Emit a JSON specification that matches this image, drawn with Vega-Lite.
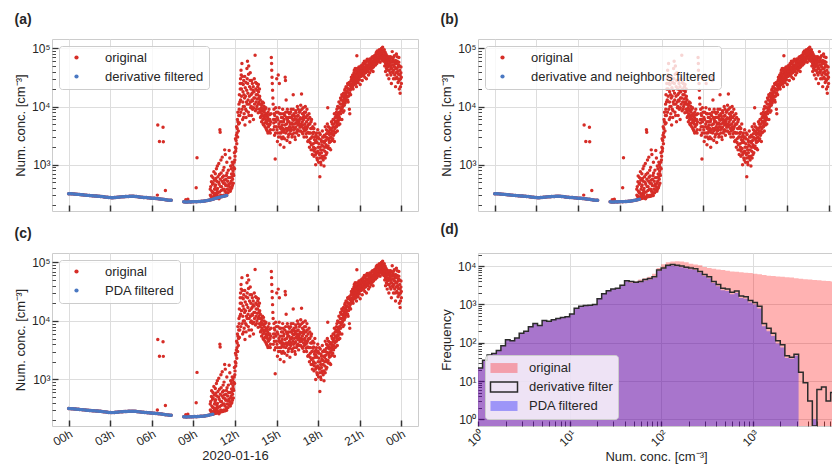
{
  "$schema": "https://vega.github.io/schema/vega-lite/v6.json",
  "padding": {"left": 13, "top": 12, "right": 0, "bottom": 0},
  "background": "white",
  "config": {
    "font": "Liberation Sans",
    "view": {"stroke": "#cccccc", "strokeWidth": 1},
    "axis": {"domain": false, "gridColor": "#dddddd", "gridWidth": 1, "labelFontSize": 12, "labelColor": "#262626", "titleFontSize": 13, "titleFontWeight": "normal", "titleColor": "#262626", "tickColor": "#333333", "labelOverlap": false, "labelFlush": false},
    "title": {"anchor": "start", "fontSize": 14, "fontWeight": "bold", "color": "#262626", "offset": 12},
    "legend": {"labelFont": "Liberation Sans", "labelLimit": 400}
  },
  "datasets": {
    "ts": [
      {"t":0.0,"v":318,"f":1},{"t":0.1,"v":317,"f":1},{"t":0.2,"v":316,"f":1},{"t":0.3,"v":315,"f":1},{"t":0.4,"v":313,"f":1},{"t":0.5,"v":312,"f":1},{"t":0.6,"v":310,"f":1},{"t":0.7,"v":309,"f":1},{"t":0.8,"v":307,"f":1},{"t":0.9,"v":305,"f":1},
      {"t":1.0,"v":304,"f":1},{"t":1.1,"v":302,"f":1},{"t":1.2,"v":300,"f":1},{"t":1.3,"v":298,"f":1},{"t":1.4,"v":297,"f":1},{"t":1.5,"v":295,"f":1},{"t":1.6,"v":294,"f":1},{"t":1.7,"v":292,"f":1},{"t":1.8,"v":291,"f":1},{"t":1.9,"v":290,"f":1},
      {"t":2.0,"v":289,"f":1},{"t":2.1,"v":288,"f":1},{"t":2.2,"v":286,"f":1},{"t":2.3,"v":285,"f":1},{"t":2.4,"v":283,"f":1},{"t":2.5,"v":281,"f":1},{"t":2.6,"v":279,"f":1},{"t":2.7,"v":277,"f":1},{"t":2.8,"v":275,"f":1},{"t":2.9,"v":273,"f":1},
      {"t":3.0,"v":272,"f":1},{"t":3.1,"v":271,"f":1},{"t":3.2,"v":271,"f":1},{"t":3.3,"v":272,"f":1},{"t":3.4,"v":274,"f":1},{"t":3.5,"v":276,"f":1},{"t":3.6,"v":277,"f":1},{"t":3.7,"v":279,"f":1},{"t":3.8,"v":280,"f":1},{"t":3.9,"v":281,"f":1},
      {"t":4.0,"v":282,"f":1},{"t":4.1,"v":283,"f":1},{"t":4.2,"v":284,"f":1},{"t":4.3,"v":285,"f":1},{"t":4.4,"v":286,"f":1},{"t":4.5,"v":287,"f":1},{"t":4.6,"v":287,"f":1},{"t":4.7,"v":286,"f":1},{"t":4.8,"v":285,"f":1},{"t":4.9,"v":283,"f":1},
      {"t":5.0,"v":281,"f":1},{"t":5.1,"v":279,"f":1},{"t":5.2,"v":277,"f":1},{"t":5.3,"v":275,"f":1},{"t":5.4,"v":274,"f":1},{"t":5.5,"v":273,"f":1},{"t":5.6,"v":272,"f":1},{"t":5.7,"v":270,"f":1},{"t":5.8,"v":269,"f":1},{"t":5.9,"v":268,"f":1},
      {"t":6.0,"v":266,"f":1},{"t":6.1,"v":265,"f":1},{"t":6.2,"v":264,"f":1},{"t":6.3,"v":262,"f":1},{"t":6.4,"v":261,"f":1},{"t":6.5,"v":260,"f":1},{"t":6.6,"v":258,"f":1},{"t":6.7,"v":256,"f":1},{"t":6.8,"v":254,"f":1},{"t":6.9,"v":252,"f":1},
      {"t":7.0,"v":250,"f":1},{"t":7.1,"v":248,"f":1},{"t":7.2,"v":246,"f":1},{"t":7.3,"v":245,"f":1},{"t":7.4,"v":244,"f":1},
      {"t":8.3,"v":230,"f":1},{"t":8.4,"v":229,"f":1},{"t":8.5,"v":228,"f":1},{"t":8.6,"v":229,"f":1},{"t":8.7,"v":230,"f":1},{"t":8.8,"v":229,"f":1},{"t":8.9,"v":230,"f":1},{"t":9.0,"v":231,"f":1},{"t":9.1,"v":232,"f":1},{"t":9.2,"v":231,"f":1},{"t":9.3,"v":232,"f":1},
      {"t":9.4,"v":233,"f":1},{"t":9.5,"v":234,"f":1},{"t":9.6,"v":235,"f":1},{"t":9.7,"v":236,"f":1},{"t":9.8,"v":238,"f":1},{"t":9.9,"v":240,"f":1},{"t":10.0,"v":242,"f":1},{"t":10.1,"v":245,"f":1},{"t":10.2,"v":248,"f":1},{"t":10.3,"v":251,"f":1},{"t":10.4,"v":254,"f":1},
      {"t":10.5,"v":260,"f":2},{"t":10.6,"v":264,"f":2},{"t":10.7,"v":268,"f":2},{"t":10.8,"v":272,"f":2},{"t":10.9,"v":276,"f":2},{"t":11.0,"v":280,"f":2},{"t":11.1,"v":284,"f":2},{"t":11.2,"v":288,"f":2},{"t":11.3,"v":292,"f":2},{"t":11.4,"v":296,"f":2},
      {"t":6.43,"v":4800},{"t":6.81,"v":4400},{"t":6.55,"v":2500},{"t":6.83,"v":2480},{"t":6.4,"v":300},{"t":6.98,"v":360},{"t":9.26,"v":1320},{"t":9.2,"v":400},{"t":8.45,"v":250},{"t":8.6,"v":255},
      {"t":10.22,"v":300},{"t":10.25,"v":420},{"t":10.28,"v":260},{"t":10.3,"v":510},{"t":10.33,"v":350},{"t":10.36,"v":280},{"t":10.38,"v":460},{"t":10.41,"v":600},{"t":10.44,"v":330},{"t":10.47,"v":270},
      {"t":10.5,"v":540},{"t":10.52,"v":380},{"t":10.55,"v":290},{"t":10.58,"v":700},{"t":10.6,"v":450},{"t":10.63,"v":320},{"t":10.66,"v":850},{"t":10.68,"v":520},{"t":10.71,"v":300},{"t":10.74,"v":390},
      {"t":10.77,"v":620},{"t":10.8,"v":280},{"t":10.83,"v":1050},{"t":10.86,"v":460},{"t":10.88,"v":340},{"t":10.91,"v":4000},{"t":10.93,"v":3600},{"t":10.94,"v":560},{"t":10.97,"v":300},{"t":11.0,"v":720},
      {"t":11.03,"v":420},{"t":11.05,"v":290},{"t":11.08,"v":1350},{"t":11.1,"v":610},{"t":11.13,"v":380},{"t":11.16,"v":480},{"t":11.19,"v":300},{"t":11.21,"v":900},{"t":11.24,"v":540},{"t":11.27,"v":350},
      {"t":11.3,"v":1500},{"t":11.33,"v":440},{"t":11.35,"v":310},{"t":11.38,"v":650},{"t":11.41,"v":1100},{"t":11.44,"v":380},{"t":11.47,"v":520},{"t":11.5,"v":330},{"t":11.52,"v":800},{"t":11.55,"v":460},
      {"t":11.58,"v":1750},{"t":11.61,"v":420},{"t":11.64,"v":600},{"t":11.66,"v":350},{"t":11.69,"v":950},{"t":11.72,"v":520},{"t":11.75,"v":690},{"t":11.77,"v":400},{"t":11.8,"v":1100},{"t":11.83,"v":560},
      {"t":11.86,"v":780},{"t":11.88,"v":480},{"t":11.91,"v":650},{"t":11.94,"v":1100},{"t":11.97,"v":850},{"t":12.0,"v":1400},{"t":12.02,"v":2000},{"t":12.05,"v":1700},{"t":12.08,"v":2600},{"t":12.1,"v":3200},
      {"t":12.13,"v":2300},{"t":12.16,"v":4200},{"t":12.19,"v":3000},{"t":12.21,"v":5500},{"t":12.24,"v":3800},{"t":12.27,"v":7000},{"t":12.3,"v":9000},{"t":12.32,"v":5200},{"t":12.35,"v":12000},{"t":12.38,"v":20000},
      {"t":12.4,"v":30000},{"t":12.42,"v":8000},{"t":12.45,"v":35000},{"t":12.47,"v":15000},{"t":12.5,"v":55000},{"t":12.52,"v":25000},{"t":12.55,"v":6000},{"t":12.58,"v":18000},{"t":12.6,"v":10000},{"t":12.63,"v":28000},
      {"t":12.66,"v":7500},{"t":12.69,"v":14000},{"t":12.72,"v":4800},{"t":12.74,"v":21000},{"t":12.77,"v":9000},{"t":12.8,"v":6500},{"t":12.83,"v":12000},{"t":12.86,"v":45000},{"t":12.88,"v":30000},{"t":12.9,"v":60000},
      {"t":12.93,"v":17000},{"t":12.96,"v":8000},{"t":12.99,"v":50000},{"t":13.02,"v":11000},{"t":13.05,"v":22000},{"t":13.07,"v":5500},{"t":13.1,"v":38000},{"t":13.13,"v":9500},{"t":13.16,"v":16000},{"t":13.19,"v":7000},
      {"t":13.22,"v":13000},{"t":13.25,"v":25000},{"t":13.27,"v":9000},{"t":13.3,"v":19000},{"t":13.33,"v":6000},{"t":13.36,"v":14000},{"t":13.39,"v":30000},{"t":13.41,"v":11000},{"t":13.45,"v":76000},{"t":13.47,"v":8500},
      {"t":13.5,"v":20000},{"t":13.53,"v":16000},{"t":13.56,"v":25000},{"t":13.58,"v":10000},{"t":13.61,"v":13500},{"t":13.64,"v":22000},{"t":13.67,"v":7800},{"t":13.7,"v":18000},{"t":13.72,"v":12000},{"t":13.75,"v":9000},
      {"t":13.78,"v":15000},{"t":13.81,"v":8000},{"t":13.84,"v":6500},{"t":13.87,"v":11000},{"t":13.9,"v":9500},{"t":13.92,"v":5500},{"t":13.95,"v":7500},{"t":13.98,"v":12000},{"t":14.01,"v":6000},{"t":14.04,"v":8500},
      {"t":14.07,"v":4800},{"t":14.1,"v":10000},{"t":14.13,"v":7000},{"t":14.15,"v":5200},{"t":14.18,"v":9000},{"t":14.21,"v":6000},{"t":14.24,"v":4200},{"t":14.27,"v":7500},{"t":14.3,"v":5500},{"t":14.33,"v":3800},
      {"t":14.36,"v":6500},{"t":14.39,"v":8000},{"t":14.41,"v":4500},{"t":14.44,"v":5800},{"t":14.47,"v":3600},{"t":14.5,"v":7200},{"t":14.53,"v":5000},{"t":14.56,"v":4000},{"t":14.62,"v":70000},{"t":14.64,"v":55000},
      {"t":14.65,"v":42000},{"t":14.67,"v":32000},{"t":14.69,"v":25000},{"t":14.71,"v":19000},{"t":14.73,"v":14000},{"t":14.75,"v":11000},{"t":14.78,"v":6000},{"t":14.81,"v":9000},{"t":14.84,"v":4500},{"t":14.87,"v":7000},
      {"t":14.9,"v":1250},{"t":14.92,"v":3500},{"t":14.95,"v":5500},{"t":14.98,"v":8000},{"t":15.01,"v":30000},{"t":15.03,"v":4000},{"t":15.06,"v":2500},{"t":15.09,"v":6000},{"t":15.12,"v":35000},{"t":15.14,"v":3000},
      {"t":15.17,"v":5000},{"t":15.2,"v":25000},{"t":15.23,"v":7500},{"t":15.26,"v":2200},{"t":15.29,"v":4200},{"t":15.32,"v":3500},{"t":15.35,"v":6500},{"t":15.38,"v":2800},{"t":15.41,"v":4800},{"t":15.44,"v":9000},
      {"t":15.47,"v":3000},{"t":15.5,"v":5500},{"t":15.53,"v":2000},{"t":15.56,"v":4000},{"t":15.59,"v":7000},{"t":15.62,"v":32000},{"t":15.64,"v":28000},{"t":15.66,"v":3500},{"t":15.69,"v":13000},{"t":15.72,"v":5000},
      {"t":15.75,"v":2600},{"t":15.78,"v":6000},{"t":15.81,"v":4200},{"t":15.84,"v":8000},{"t":15.87,"v":3300},{"t":15.9,"v":5500},{"t":15.93,"v":4500},{"t":15.96,"v":2400},{"t":15.99,"v":6500},{"t":16.02,"v":3800},
      {"t":16.05,"v":9000},{"t":16.08,"v":5000},{"t":16.11,"v":3000},{"t":16.14,"v":7000},{"t":16.17,"v":4500},{"t":16.2,"v":16000},{"t":16.23,"v":5800},{"t":16.26,"v":3500},{"t":16.29,"v":6800},{"t":16.32,"v":4200},
      {"t":16.35,"v":2700},{"t":16.38,"v":8500},{"t":16.41,"v":5200},{"t":16.44,"v":6000},{"t":16.47,"v":3800},{"t":16.5,"v":10000},{"t":16.53,"v":4800},{"t":16.56,"v":7000},{"t":16.59,"v":3200},{"t":16.62,"v":5600},
      {"t":16.65,"v":8000},{"t":16.68,"v":4400},{"t":16.71,"v":6400},{"t":16.74,"v":10500},{"t":16.77,"v":5000},{"t":16.8,"v":16500},{"t":16.83,"v":3600},{"t":16.86,"v":7500},{"t":16.89,"v":4800},{"t":16.92,"v":9500},
      {"t":16.95,"v":6000},{"t":16.98,"v":3000},{"t":17.01,"v":8000},{"t":17.04,"v":5000},{"t":17.07,"v":10000},{"t":17.1,"v":4000},{"t":17.13,"v":6500},{"t":17.16,"v":3000},{"t":17.19,"v":9000},{"t":17.22,"v":4500},
      {"t":17.25,"v":2500},{"t":17.28,"v":6000},{"t":17.31,"v":3500},{"t":17.34,"v":7500},{"t":17.37,"v":2000},{"t":17.4,"v":5000},{"t":17.43,"v":2800},{"t":17.46,"v":4200},{"t":17.49,"v":1800},{"t":17.52,"v":6000},
      {"t":17.55,"v":3000},{"t":17.58,"v":1500},{"t":17.61,"v":4500},{"t":17.64,"v":2300},{"t":17.67,"v":3600},{"t":17.7,"v":1400},{"t":17.73,"v":2700},{"t":17.76,"v":5000},{"t":17.79,"v":1900},{"t":17.82,"v":1000},
      {"t":17.85,"v":3200},{"t":17.88,"v":1600},{"t":17.91,"v":2400},{"t":17.94,"v":1200},{"t":17.97,"v":4000},{"t":18.0,"v":2000},{"t":18.03,"v":1100},{"t":18.06,"v":2800},{"t":18.09,"v":1500},{"t":18.12,"v":620},
      {"t":18.15,"v":3300},{"t":18.18,"v":1800},{"t":18.21,"v":1000},{"t":18.24,"v":2500},{"t":18.27,"v":1400},{"t":18.3,"v":3800},{"t":18.33,"v":2100},{"t":18.36,"v":1200},{"t":18.39,"v":3000},{"t":18.42,"v":950},
      {"t":18.45,"v":2400},{"t":18.48,"v":1700},{"t":18.51,"v":4500},{"t":18.54,"v":2600},{"t":18.57,"v":1500},{"t":18.6,"v":3400},{"t":18.63,"v":2000},{"t":18.66,"v":5000},{"t":18.69,"v":9500},{"t":18.72,"v":2800},
      {"t":18.75,"v":1900},{"t":18.78,"v":3600},{"t":18.81,"v":2400},{"t":18.84,"v":4300},{"t":18.87,"v":2900},{"t":18.9,"v":1800},{"t":18.93,"v":3500},{"t":18.96,"v":5500},{"t":18.99,"v":2600},{"t":19.02,"v":3800},
      {"t":19.05,"v":2800},{"t":19.08,"v":4500},{"t":19.11,"v":3200},{"t":19.14,"v":6000},{"t":19.17,"v":2500},{"t":19.2,"v":4200},{"t":19.23,"v":5500},{"t":19.26,"v":3600},{"t":19.29,"v":7000},{"t":19.32,"v":4500},
      {"t":19.35,"v":9000},{"t":19.38,"v":3800},{"t":19.41,"v":5800},{"t":19.44,"v":7500},{"t":19.47,"v":4800},{"t":19.5,"v":9500},{"t":19.53,"v":6500},{"t":19.56,"v":5000},{"t":19.59,"v":11000},{"t":19.62,"v":7500},
      {"t":19.65,"v":13000},{"t":19.68,"v":9000},{"t":19.71,"v":6000},{"t":19.74,"v":15000},{"t":19.77,"v":10000},{"t":19.8,"v":12500},{"t":19.83,"v":17000},{"t":19.86,"v":8500},{"t":19.89,"v":14000},{"t":19.92,"v":19000},
      {"t":19.95,"v":11500},{"t":19.98,"v":16000},{"t":20.01,"v":22000},{"t":20.04,"v":13000},{"t":20.07,"v":18000},{"t":20.1,"v":15000},{"t":20.13,"v":25000},{"t":20.16,"v":12000},{"t":20.19,"v":20000},{"t":20.22,"v":17000},
      {"t":20.25,"v":9000},{"t":20.28,"v":7500},{"t":20.31,"v":23000},{"t":20.34,"v":16000},{"t":20.37,"v":28000},{"t":20.4,"v":21000},{"t":20.43,"v":30000},{"t":20.46,"v":25000},{"t":20.49,"v":35000},{"t":20.52,"v":20000},
      {"t":20.55,"v":28000},{"t":20.58,"v":38000},{"t":20.61,"v":24000},{"t":20.64,"v":32000},{"t":20.67,"v":45000},{"t":20.7,"v":27000},{"t":20.73,"v":36000},{"t":20.76,"v":22000},{"t":20.79,"v":75000},{"t":20.82,"v":30000},
      {"t":20.85,"v":40000},{"t":20.88,"v":26000},{"t":20.91,"v":34000},{"t":20.94,"v":48000},{"t":20.97,"v":29000},{"t":21.0,"v":38000},{"t":21.03,"v":24000},{"t":21.06,"v":42000},{"t":21.09,"v":33000},{"t":21.12,"v":50000},
      {"t":21.15,"v":38000},{"t":21.18,"v":28000},{"t":21.21,"v":45000},{"t":21.24,"v":55000},{"t":21.27,"v":35000},{"t":21.3,"v":42000},{"t":21.33,"v":60000},{"t":21.36,"v":32000},{"t":21.39,"v":48000},{"t":21.42,"v":38000},
      {"t":21.45,"v":52000},{"t":21.48,"v":30000},{"t":21.51,"v":44000},{"t":21.54,"v":65000},{"t":21.57,"v":40000},{"t":21.6,"v":50000},{"t":21.63,"v":35000},{"t":21.66,"v":58000},{"t":21.69,"v":45000},{"t":21.72,"v":38000},
      {"t":21.75,"v":62000},{"t":21.78,"v":48000},{"t":21.81,"v":42000},{"t":21.84,"v":55000},{"t":21.87,"v":70000},{"t":21.9,"v":46000},{"t":21.93,"v":52000},{"t":21.96,"v":40000},{"t":21.99,"v":60000},{"t":22.02,"v":50000},
      {"t":22.05,"v":75000},{"t":22.08,"v":58000},{"t":22.11,"v":68000},{"t":22.14,"v":52000},{"t":22.17,"v":80000},{"t":22.2,"v":62000},{"t":22.23,"v":55000},{"t":22.26,"v":90000},{"t":22.29,"v":70000},{"t":22.32,"v":60000},
      {"t":22.35,"v":85000},{"t":22.38,"v":65000},{"t":22.41,"v":95000},{"t":22.44,"v":72000},{"t":22.47,"v":58000},{"t":22.5,"v":88000},{"t":22.53,"v":76000},{"t":22.56,"v":100000},{"t":22.59,"v":64000},{"t":22.62,"v":82000},
      {"t":22.65,"v":105000},{"t":22.68,"v":70000},{"t":22.71,"v":92000},{"t":22.74,"v":60000},{"t":22.77,"v":78000},{"t":22.8,"v":50000},{"t":22.83,"v":86000},{"t":22.86,"v":40000},{"t":22.89,"v":65000},{"t":22.92,"v":45000},
      {"t":22.95,"v":75000},{"t":22.98,"v":35000},{"t":23.01,"v":55000},{"t":23.04,"v":42000},{"t":23.07,"v":68000},{"t":23.1,"v":30000},{"t":23.13,"v":50000},{"t":23.16,"v":60000},{"t":23.19,"v":38000},{"t":23.22,"v":72000},
      {"t":23.25,"v":45000},{"t":23.28,"v":25000},{"t":23.31,"v":58000},{"t":23.34,"v":88000},{"t":23.37,"v":40000},{"t":23.4,"v":62000},{"t":23.43,"v":30000},{"t":23.46,"v":50000},{"t":23.49,"v":75000},{"t":23.52,"v":35000},
      {"t":23.55,"v":55000},{"t":23.58,"v":22000},{"t":23.61,"v":45000},{"t":23.64,"v":80000},{"t":23.67,"v":32000},{"t":23.7,"v":60000},{"t":23.73,"v":40000},{"t":23.76,"v":26000},{"t":23.79,"v":52000},{"t":23.82,"v":70000},
      {"t":23.85,"v":20000},{"t":23.88,"v":42000},{"t":23.91,"v":17000},{"t":23.94,"v":30000},{"t":23.97,"v":48000},{"t":24.0,"v":25000},
      {"t":10.215,"v":380},{"t":10.265,"v":290},{"t":10.315,"v":640},{"t":10.345,"v":270},{"t":10.395,"v":330},{"t":10.425,"v":480},{"t":10.475,"v":760},{"t":10.515,"v":300},{"t":10.565,"v":420},{"t":10.615,"v":580},
      {"t":10.645,"v":270},{"t":10.695,"v":360},{"t":10.725,"v":950},{"t":10.755,"v":330},{"t":10.815,"v":500},{"t":10.845,"v":260},{"t":10.875,"v":680},{"t":10.955,"v":420},{"t":10.985,"v":1200},{"t":11.015,"v":360},
      {"t":11.065,"v":520},{"t":11.115,"v":290},{"t":11.145,"v":800},{"t":11.175,"v":640},{"t":11.225,"v":380},{"t":11.255,"v":1800},{"t":11.285,"v":470},{"t":11.345,"v":560},{"t":11.395,"v":330},{"t":11.425,"v":720},
      {"t":11.485,"v":430},{"t":11.535,"v":600},{"t":11.565,"v":370},{"t":11.625,"v":1300},{"t":11.675,"v":480},{"t":11.705,"v":380},{"t":11.735,"v":850},{"t":11.785,"v":620},{"t":11.815,"v":440},{"t":11.845,"v":1000},
      {"t":11.875,"v":700},{"t":11.905,"v":900},{"t":11.955,"v":1600},{"t":11.985,"v":1200},{"t":12.035,"v":2800},{"t":12.065,"v":1900},{"t":12.115,"v":4500},{"t":12.145,"v":3500},{"t":12.175,"v":6000},{"t":12.205,"v":8000},
      {"t":12.255,"v":5000},{"t":12.285,"v":11000},{"t":12.315,"v":16000},{"t":12.345,"v":7000},{"t":12.375,"v":25000},{"t":12.405,"v":13000},{"t":12.435,"v":42000},{"t":12.465,"v":20000},{"t":12.515,"v":9000},{"t":12.535,"v":33000},
      {"t":12.565,"v":12000},{"t":12.595,"v":24000},{"t":12.615,"v":6500},{"t":12.645,"v":16000},{"t":12.675,"v":10000},{"t":12.705,"v":33000},{"t":12.755,"v":15000},{"t":12.785,"v":26000},{"t":12.815,"v":8500},{"t":12.845,"v":19000},
      {"t":12.875,"v":11000},{"t":12.915,"v":25000},{"t":12.945,"v":13000},{"t":12.975,"v":36000},{"t":13.005,"v":7000},{"t":13.035,"v":15000},{"t":13.085,"v":28000},{"t":13.115,"v":12000},{"t":13.145,"v":20000},{"t":13.175,"v":10000},
      {"t":13.205,"v":28000},{"t":13.235,"v":17000},{"t":13.265,"v":12500},{"t":13.315,"v":22000},{"t":13.345,"v":9500},{"t":13.375,"v":18000},{"t":13.425,"v":14000},{"t":13.485,"v":26000},{"t":13.515,"v":12000},{"t":13.545,"v":9000},
      {"t":13.595,"v":19000},{"t":13.625,"v":16000},{"t":13.655,"v":11000},{"t":13.685,"v":24000},{"t":13.745,"v":14000},{"t":13.765,"v":20000},{"t":13.795,"v":11000},{"t":13.825,"v":13000},{"t":13.855,"v":8500},{"t":13.885,"v":6800},
      {"t":13.935,"v":10500},{"t":13.965,"v":7000},{"t":13.995,"v":9000},{"t":14.025,"v":5000},{"t":14.055,"v":11500},{"t":14.085,"v":6500},{"t":14.115,"v":8000},{"t":14.165,"v":4500},{"t":14.195,"v":6800},{"t":14.225,"v":9500},
      {"t":14.255,"v":5500},{"t":14.285,"v":4000},{"t":14.315,"v":7000},{"t":14.345,"v":5000},{"t":14.375,"v":3500},{"t":14.425,"v":6000},{"t":14.455,"v":9000},{"t":14.485,"v":4800},{"t":14.515,"v":6000},{"t":14.545,"v":3500},
      {"t":14.575,"v":5500},{"t":14.595,"v":7500},{"t":14.765,"v":4000},{"t":14.795,"v":5200},{"t":14.825,"v":7500},{"t":14.855,"v":3200},{"t":14.885,"v":6000},{"t":14.935,"v":9500},{"t":14.965,"v":4500},{"t":15.045,"v":6500},
      {"t":15.075,"v":3500},{"t":15.105,"v":8000},{"t":15.155,"v":4500},{"t":15.185,"v":9500},{"t":15.215,"v":3500},{"t":15.245,"v":5500},{"t":15.275,"v":3000},{"t":15.305,"v":7500},{"t":15.335,"v":4500},{"t":15.365,"v":5500},
      {"t":15.395,"v":3800},{"t":15.425,"v":6500},{"t":15.455,"v":4200},{"t":15.485,"v":7500},{"t":15.515,"v":3600},{"t":15.545,"v":6000},{"t":15.575,"v":2800},{"t":15.605,"v":4800},{"t":15.655,"v":8000},{"t":15.685,"v":4200},
      {"t":15.715,"v":6500},{"t":15.745,"v":3800},{"t":15.775,"v":9000},{"t":15.805,"v":5500},{"t":15.835,"v":3000},{"t":15.865,"v":6500},{"t":15.895,"v":4000},{"t":15.925,"v":7500},{"t":15.955,"v":3400},{"t":15.985,"v":5000},
      {"t":16.015,"v":8000},{"t":16.045,"v":4200},{"t":16.075,"v":6500},{"t":16.105,"v":5200},{"t":16.135,"v":3300},{"t":16.165,"v":6000},{"t":16.195,"v":9000},{"t":16.225,"v":4000},{"t":16.255,"v":7500},{"t":16.285,"v":5000},
      {"t":16.315,"v":3000},{"t":16.345,"v":6200},{"t":16.375,"v":4400},{"t":16.405,"v":7800},{"t":16.435,"v":3500},{"t":16.465,"v":5600},{"t":16.495,"v":6800},{"t":16.525,"v":4000},{"t":16.555,"v":9000},{"t":16.585,"v":5200},
      {"t":16.615,"v":3800},{"t":16.645,"v":6000},{"t":16.675,"v":4800},{"t":16.705,"v":8500},{"t":16.735,"v":3800},{"t":16.765,"v":6200},{"t":16.795,"v":4500},{"t":16.825,"v":9000},{"t":16.855,"v":5500},{"t":16.885,"v":3400},
      {"t":16.915,"v":6500},{"t":16.945,"v":4200},{"t":16.975,"v":7000},{"t":17.005,"v":3800},{"t":17.035,"v":6500},{"t":17.065,"v":4500},{"t":17.095,"v":8000},{"t":17.125,"v":3400},{"t":17.155,"v":5500},{"t":17.185,"v":4200},
      {"t":17.215,"v":7000},{"t":17.245,"v":3600},{"t":17.275,"v":4800},{"t":17.305,"v":2600},{"t":17.335,"v":5000},{"t":17.365,"v":3500},{"t":17.395,"v":6500},{"t":17.425,"v":2400},{"t":17.455,"v":3500},{"t":17.485,"v":5500},
      {"t":17.515,"v":2200},{"t":17.545,"v":4200},{"t":17.575,"v":3000},{"t":17.605,"v":1800},{"t":17.635,"v":3400},{"t":17.665,"v":2000},{"t":17.695,"v":4200},{"t":17.725,"v":1700},{"t":17.755,"v":3000},{"t":17.785,"v":2400},
      {"t":17.815,"v":1500},{"t":17.845,"v":2600},{"t":17.875,"v":3500},{"t":17.905,"v":1300},{"t":17.935,"v":2900},{"t":17.965,"v":1700},{"t":17.995,"v":3000},{"t":18.025,"v":1600},{"t":18.055,"v":2300},{"t":18.085,"v":3500},
      {"t":18.115,"v":1300},{"t":18.145,"v":2000},{"t":18.175,"v":1100},{"t":18.205,"v":2700},{"t":18.235,"v":1600},{"t":18.265,"v":2200},{"t":18.295,"v":1300},{"t":18.325,"v":3000},{"t":18.355,"v":1800},{"t":18.385,"v":2500},
      {"t":18.415,"v":1400},{"t":18.445,"v":3200},{"t":18.475,"v":2000},{"t":18.505,"v":1300},{"t":18.535,"v":3000},{"t":18.565,"v":2200},{"t":18.595,"v":4000},{"t":18.625,"v":1600},{"t":18.655,"v":2900},{"t":18.685,"v":3800},
      {"t":18.715,"v":2100},{"t":18.745,"v":4500},{"t":18.775,"v":2600},{"t":18.805,"v":3300},{"t":18.835,"v":1900},{"t":18.865,"v":4000},{"t":18.895,"v":2500},{"t":18.925,"v":3000},{"t":18.955,"v":4200},{"t":18.985,"v":3400},
      {"t":19.015,"v":5000},{"t":19.045,"v":3300},{"t":19.075,"v":6000},{"t":19.105,"v":3800},{"t":19.135,"v":5000},{"t":19.165,"v":7500},{"t":19.195,"v":3500},{"t":19.225,"v":6500},{"t":19.255,"v":4500},{"t":19.285,"v":5500},
      {"t":19.315,"v":8000},{"t":19.345,"v":5000},{"t":19.375,"v":6500},{"t":19.405,"v":10000},{"t":19.435,"v":5500},{"t":19.465,"v":7000},{"t":19.495,"v":12000},{"t":19.525,"v":8000},{"t":19.555,"v":6000},{"t":19.585,"v":9500},
      {"t":19.615,"v":14000},{"t":19.645,"v":8500},{"t":19.675,"v":11000},{"t":19.705,"v":16000},{"t":19.735,"v":9500},{"t":19.765,"v":13000},{"t":19.795,"v":8000},{"t":19.825,"v":11500},{"t":19.855,"v":15000},{"t":19.885,"v":10500},
      {"t":19.915,"v":13500},{"t":19.945,"v":20000},{"t":19.975,"v":12500},{"t":20.005,"v":17000},{"t":20.035,"v":14500},{"t":20.065,"v":21000},{"t":20.095,"v":18000},{"t":20.125,"v":13000},{"t":20.155,"v":24000},{"t":20.185,"v":15000},
      {"t":20.215,"v":20000},{"t":20.245,"v":26000},{"t":20.275,"v":17000},{"t":20.305,"v":19000},{"t":20.335,"v":24000},{"t":20.365,"v":20000},{"t":20.395,"v":32000},{"t":20.425,"v":23000},{"t":20.455,"v":28000},{"t":20.485,"v":22000},
      {"t":20.515,"v":33000},{"t":20.545,"v":25000},{"t":20.575,"v":30000},{"t":20.605,"v":42000},{"t":20.635,"v":27000},{"t":20.665,"v":35000},{"t":20.695,"v":30000},{"t":20.725,"v":25000},{"t":20.755,"v":40000},{"t":20.785,"v":32000},
      {"t":20.815,"v":45000},{"t":20.845,"v":28000},{"t":20.875,"v":36000},{"t":20.905,"v":42000},{"t":20.935,"v":31000},{"t":20.965,"v":38000},{"t":20.995,"v":45000},{"t":21.025,"v":33000},{"t":21.055,"v":36000},{"t":21.085,"v":50000},
      {"t":21.115,"v":40000},{"t":21.145,"v":46000},{"t":21.175,"v":34000},{"t":21.205,"v":52000},{"t":21.235,"v":40000},{"t":21.265,"v":48000},{"t":21.295,"v":36000},{"t":21.325,"v":45000},{"t":21.355,"v":55000},{"t":21.385,"v":42000},
      {"t":21.415,"v":58000},{"t":21.445,"v":40000},{"t":21.475,"v":50000},{"t":21.505,"v":62000},{"t":21.535,"v":45000},{"t":21.565,"v":52000},{"t":21.595,"v":42000},{"t":21.625,"v":60000},{"t":21.655,"v":48000},{"t":21.685,"v":55000},
      {"t":21.715,"v":66000},{"t":21.745,"v":50000},{"t":21.775,"v":58000},{"t":21.805,"v":45000},{"t":21.835,"v":62000},{"t":21.865,"v":52000},{"t":21.895,"v":60000},{"t":21.925,"v":72000},{"t":21.955,"v":55000},{"t":21.985,"v":48000},
      {"t":22.015,"v":65000},{"t":22.045,"v":58000},{"t":22.075,"v":70000},{"t":22.105,"v":60000},{"t":22.135,"v":75000},{"t":22.165,"v":62000},{"t":22.195,"v":85000},{"t":22.225,"v":68000},{"t":22.255,"v":58000},{"t":22.285,"v":80000},
      {"t":22.315,"v":72000},{"t":22.345,"v":62000},{"t":22.375,"v":90000},{"t":22.405,"v":75000},{"t":22.435,"v":85000},{"t":22.465,"v":68000},{"t":22.495,"v":78000},{"t":22.525,"v":92000},{"t":22.555,"v":70000},{"t":22.585,"v":85000},
      {"t":22.615,"v":72000},{"t":22.645,"v":62000},{"t":22.675,"v":88000},{"t":22.705,"v":75000},{"t":22.735,"v":68000},{"t":22.765,"v":95000},{"t":22.795,"v":62000},{"t":22.825,"v":72000},{"t":22.855,"v":55000},{"t":22.885,"v":80000},
      {"t":22.915,"v":60000},{"t":22.945,"v":52000},{"t":22.975,"v":68000},{"t":23.005,"v":48000},{"t":23.035,"v":62000},{"t":23.065,"v":50000},{"t":23.095,"v":72000},{"t":23.125,"v":42000},{"t":23.155,"v":55000},{"t":23.185,"v":65000},
      {"t":23.215,"v":50000},{"t":23.245,"v":35000},{"t":23.275,"v":60000},{"t":23.305,"v":45000},{"t":23.335,"v":68000},{"t":23.365,"v":52000},{"t":23.395,"v":38000},{"t":23.425,"v":70000},{"t":23.455,"v":42000},{"t":23.485,"v":58000},
      {"t":23.515,"v":48000},{"t":23.545,"v":30000},{"t":23.575,"v":62000},{"t":23.605,"v":38000},{"t":23.635,"v":55000},{"t":23.665,"v":45000},{"t":23.695,"v":72000},{"t":23.725,"v":30000},{"t":23.755,"v":48000},{"t":23.785,"v":36000},
      {"t":23.815,"v":58000},{"t":23.845,"v":28000},{"t":23.875,"v":50000},{"t":23.905,"v":35000},{"t":23.935,"v":22000},{"t":23.965,"v":38000},{"t":23.995,"v":32000}
    ],
    "h": [
      {"x":1,"o":22,"d":22,"p":22},{"x":1.122,"o":35,"d":35,"p":35},{"x":1.259,"o":48,"d":48,"p":48},{"x":1.413,"o":52,"d":52,"p":52},{"x":1.585,"o":63,"d":63,"p":63},
      {"x":1.778,"o":83,"d":83,"p":83},{"x":1.995,"o":120,"d":120,"p":120},{"x":2.239,"o":112,"d":112,"p":112},{"x":2.512,"o":132,"d":132,"p":132},{"x":2.818,"o":178,"d":178,"p":178},
      {"x":3.162,"o":200,"d":200,"p":200},{"x":3.548,"o":263,"d":263,"p":263},{"x":3.981,"o":316,"d":316,"p":316},{"x":4.467,"o":282,"d":282,"p":282},{"x":5.012,"o":380,"d":380,"p":380},
      {"x":5.623,"o":363,"d":363,"p":363},{"x":6.31,"o":398,"d":398,"p":398},{"x":7.079,"o":427,"d":427,"p":427},{"x":7.943,"o":457,"d":457,"p":457},{"x":8.913,"o":479,"d":479,"p":479},
      {"x":10,"o":562,"d":562,"p":562},{"x":11.22,"o":794,"d":794,"p":794},{"x":12.59,"o":891,"d":891,"p":891},{"x":14.13,"o":933,"d":933,"p":933},{"x":15.85,"o":955,"d":955,"p":955},
      {"x":17.78,"o":1000,"d":1000,"p":1000},{"x":19.95,"o":1413,"d":1413,"p":1413},{"x":22.39,"o":1905,"d":1905,"p":1905},{"x":25.12,"o":2291,"d":2291,"p":2291},{"x":28.18,"o":2512,"d":2512,"p":2512},
      {"x":31.62,"o":2630,"d":2630,"p":2630},{"x":35.48,"o":3250,"d":3162,"p":3100},{"x":39.81,"o":4200,"d":4169,"p":4000},{"x":44.67,"o":4100,"d":3981,"p":3700},{"x":50.12,"o":4000,"d":3802,"p":3600},
      {"x":56.23,"o":4470,"d":3981,"p":3800},{"x":63.1,"o":4790,"d":4467,"p":4200},{"x":70.79,"o":5250,"d":4786,"p":4500},{"x":79.43,"o":6310,"d":5248,"p":5000},{"x":89.13,"o":8910,"d":7943,"p":7500},
      {"x":100,"o":11220,"d":8913,"p":8500},{"x":112.2,"o":12590,"d":10470,"p":10000},{"x":125.9,"o":13180,"d":10965,"p":10400},{"x":141.3,"o":13490,"d":10470,"p":9900},{"x":158.5,"o":13180,"d":10000,"p":9400},
      {"x":177.8,"o":12590,"d":9333,"p":8800},{"x":199.5,"o":11480,"d":8913,"p":8300},{"x":223.9,"o":10960,"d":8511,"p":7900},{"x":251.2,"o":10470,"d":7244,"p":6700},{"x":281.8,"o":9550,"d":6026,"p":5500},
      {"x":316.2,"o":8910,"d":5248,"p":4800},{"x":354.8,"o":8510,"d":3981,"p":3600},{"x":398.1,"o":8130,"d":3311,"p":3000},{"x":446.7,"o":7940,"d":2630,"p":2350},{"x":501.2,"o":7590,"d":2512,"p":2250},
      {"x":562.3,"o":7240,"d":2089,"p":1850},{"x":631,"o":7080,"d":2239,"p":2000},{"x":707.9,"o":6920,"d":1660,"p":1480},{"x":794.3,"o":6760,"d":1585,"p":1400},{"x":891.3,"o":6610,"d":1259,"p":1120},
      {"x":1000,"o":6310,"d":1122,"p":990},{"x":1122,"o":6170,"d":891,"p":780},{"x":1259,"o":5890,"d":316,"p":270},{"x":1413,"o":5620,"d":240,"p":200},{"x":1585,"o":5500,"d":178,"p":150},
      {"x":1778,"o":5370,"d":112,"p":95},{"x":1995,"o":5250,"d":89,"p":75},{"x":2239,"o":5130,"d":46,"p":40},{"x":2512,"o":5010,"d":42,"p":38},{"x":2818,"o":4790,"d":50,"p":46},
      {"x":3162,"o":4680,"d":17,"p":0.3},{"x":3548,"o":4570,"d":9,"p":0.3},{"x":3981,"o":4470,"d":3,"p":0.3},{"x":4467,"o":4370,"d":0.3,"p":1},{"x":5012,"o":4270,"d":6,"p":0.3},
      {"x":5623,"o":4170,"d":7,"p":0.3},{"x":6310,"o":4070,"d":3,"p":0.3},{"x":7079,"o":3980,"d":5,"p":0.3},{"x":7943,"o":3980,"d":5,"p":0.3}
    ]
  },
  "spacing": 9,
  "resolve": {"scale": {"color": "independent", "fill": "independent", "stroke": "independent"}, "legend": {"color": "independent", "fill": "independent", "stroke": "independent"}},
  "vconcat": [
    {
      "spacing": 20,
      "resolve": {"scale": {"color": "independent", "fill": "independent", "stroke": "independent"}, "legend": {"color": "independent", "fill": "independent", "stroke": "independent"}},
      "hconcat": [
        {
          "title": {"text": "(a)"},
          "width": 366, "height": 172,
          "data": {"name": "ts"},
          "layer": [
            {
              "mark": {"type": "point", "filled": true, "size": 12, "opacity": 1},
              "encoding": {
                "x": {"field": "t", "type": "quantitative", "scale": {"domain": [-1.2, 25.2], "nice": false, "zero": false},
                      "axis": {"values": [0,3,6,9,12,15,18,21,24], "labels": false, "title": null, "tickSize": -6, "tickWidth": 1.5}},
                "y": {"field": "v", "type": "quantitative", "scale": {"type": "log", "domain": [160, 145000], "nice": false},
                      "axis": {"title": "Num. conc. [cm⁻³]", "values": [200,300,400,500,600,700,800,900,1000,2000,3000,4000,5000,6000,7000,8000,9000,10000,20000,30000,40000,50000,60000,70000,80000,90000,100000],
                               "labelExpr": "abs(log(datum.value)/LN10 - round(log(datum.value)/LN10)) < 0.01 ? '10' + ['⁰','¹','²','³','⁴','⁵'][round(log(datum.value)/LN10)] : ''",
                               "gridOpacity": {"condition": {"test": "abs(log(datum.value)/LN10 - round(log(datum.value)/LN10)) < 0.01", "value": 1}, "value": 0},
                               "tickSize": {"condition": {"test": "abs(log(datum.value)/LN10 - round(log(datum.value)/LN10)) < 0.01", "value": -6}, "value": -3.5},
                               "tickWidth": {"condition": {"test": "abs(log(datum.value)/LN10 - round(log(datum.value)/LN10)) < 0.01", "value": 1.3}, "value": 0.9},
                               "labelPadding": 8, "titlePadding": 4}},
                "color": {"datum": "original", "scale": {"domain": ["original", "derivative filtered"], "range": ["#d62d27", "#4a78c2"]},
                          "legend": {"title": null, "orient": "top-left", "offset": 7, "padding": 5, "fillColor": "rgba(255,255,255,0.8)", "strokeColor": "#cccccc", "cornerRadius": 3, "labelFontSize": 13, "labelColor": "#262626", "symbolType": "circle", "symbolSize": 18, "symbolOffset": 6, "labelOffset": 22, "rowPadding": 5}}
              }
            },
            {
              "transform": [{"filter": "datum.f > 0"}],
              "mark": {"type": "point", "filled": true, "size": 12, "opacity": 1},
              "encoding": {
                "x": {"field": "t", "type": "quantitative"},
                "y": {"field": "v", "type": "quantitative"},
                "color": {"datum": "derivative filtered"}
              }
            }
          ]
        },
        {
          "title": {"text": "(b)"},
          "width": 355, "height": 172,
          "data": {"name": "ts"},
          "layer": [
            {
              "mark": {"type": "point", "filled": true, "size": 12, "opacity": 1},
              "encoding": {
                "x": {"field": "t", "type": "quantitative", "scale": {"domain": [-1.2, 24.32], "nice": false, "zero": false},
                      "axis": {"values": [0,3,6,9,12,15,18,21,24], "labels": false, "title": null, "tickSize": -6, "tickWidth": 1.5}},
                "y": {"field": "v", "type": "quantitative", "scale": {"type": "log", "domain": [160, 145000], "nice": false},
                      "axis": {"title": "Num. conc. [cm⁻³]", "values": [200,300,400,500,600,700,800,900,1000,2000,3000,4000,5000,6000,7000,8000,9000,10000,20000,30000,40000,50000,60000,70000,80000,90000,100000],
                               "labelExpr": "abs(log(datum.value)/LN10 - round(log(datum.value)/LN10)) < 0.01 ? '10' + ['⁰','¹','²','³','⁴','⁵'][round(log(datum.value)/LN10)] : ''",
                               "gridOpacity": {"condition": {"test": "abs(log(datum.value)/LN10 - round(log(datum.value)/LN10)) < 0.01", "value": 1}, "value": 0},
                               "tickSize": {"condition": {"test": "abs(log(datum.value)/LN10 - round(log(datum.value)/LN10)) < 0.01", "value": -6}, "value": -3.5},
                               "tickWidth": {"condition": {"test": "abs(log(datum.value)/LN10 - round(log(datum.value)/LN10)) < 0.01", "value": 1.3}, "value": 0.9},
                               "labelPadding": 8, "titlePadding": 4}},
                "color": {"datum": "original", "scale": {"domain": ["original", "derivative and neighbors filtered"], "range": ["#d62d27", "#4a78c2"]},
                          "legend": {"title": null, "orient": "top-left", "offset": 7, "padding": 5, "fillColor": "rgba(255,255,255,0.8)", "strokeColor": "#cccccc", "cornerRadius": 3, "labelFontSize": 13, "labelColor": "#262626", "symbolType": "circle", "symbolSize": 18, "symbolOffset": 6, "labelOffset": 22, "rowPadding": 5}}
              }
            },
            {
              "transform": [{"filter": "datum.f == 1"}],
              "mark": {"type": "point", "filled": true, "size": 12, "opacity": 1},
              "encoding": {
                "x": {"field": "t", "type": "quantitative"},
                "y": {"field": "v", "type": "quantitative"},
                "color": {"datum": "derivative and neighbors filtered"}
              }
            }
          ]
        }
      ]
    },
    {
      "spacing": 20,
      "resolve": {"scale": {"color": "independent", "fill": "independent", "stroke": "independent"}, "legend": {"color": "independent", "fill": "independent", "stroke": "independent"}},
      "hconcat": [
        {
          "title": {"text": "(c)"},
          "width": 366, "height": 173,
          "data": {"name": "ts"},
          "layer": [
            {
              "mark": {"type": "point", "filled": true, "size": 12, "opacity": 1},
              "encoding": {
                "x": {"field": "t", "type": "quantitative", "scale": {"domain": [-1.2, 25.2], "nice": false, "zero": false},
                      "axis": {"values": [0,3,6,9,12,15,18,21,24], "labelExpr": "format(datum.value % 24, '02d') + 'h'", "labelAngle": -30, "labelAlign": "right", "labelBaseline": "top", "title": "2020-01-16", "titlePadding": 2, "tickSize": -6, "tickWidth": 1.5, "labelPadding": 8}},
                "y": {"field": "v", "type": "quantitative", "scale": {"type": "log", "domain": [160, 145000], "nice": false},
                      "axis": {"title": "Num. conc. [cm⁻³]", "values": [200,300,400,500,600,700,800,900,1000,2000,3000,4000,5000,6000,7000,8000,9000,10000,20000,30000,40000,50000,60000,70000,80000,90000,100000],
                               "labelExpr": "abs(log(datum.value)/LN10 - round(log(datum.value)/LN10)) < 0.01 ? '10' + ['⁰','¹','²','³','⁴','⁵'][round(log(datum.value)/LN10)] : ''",
                               "gridOpacity": {"condition": {"test": "abs(log(datum.value)/LN10 - round(log(datum.value)/LN10)) < 0.01", "value": 1}, "value": 0},
                               "tickSize": {"condition": {"test": "abs(log(datum.value)/LN10 - round(log(datum.value)/LN10)) < 0.01", "value": -6}, "value": -3.5},
                               "tickWidth": {"condition": {"test": "abs(log(datum.value)/LN10 - round(log(datum.value)/LN10)) < 0.01", "value": 1.3}, "value": 0.9},
                               "labelPadding": 8, "titlePadding": 4}},
                "color": {"datum": "original", "scale": {"domain": ["original", "PDA filtered"], "range": ["#d62d27", "#4a78c2"]},
                          "legend": {"title": null, "orient": "top-left", "offset": 7, "padding": 5, "fillColor": "rgba(255,255,255,0.8)", "strokeColor": "#cccccc", "cornerRadius": 3, "labelFontSize": 13, "labelColor": "#262626", "symbolType": "circle", "symbolSize": 18, "symbolOffset": 6, "labelOffset": 22, "rowPadding": 5}}
              }
            },
            {
              "transform": [{"filter": "datum.f == 1"}],
              "mark": {"type": "point", "filled": true, "size": 12, "opacity": 1},
              "encoding": {
                "x": {"field": "t", "type": "quantitative"},
                "y": {"field": "v", "type": "quantitative"},
                "color": {"datum": "PDA filtered"}
              }
            }
          ]
        },
        {
          "title": {"text": "(d)"},
          "width": 356, "height": 173,
          "data": {"name": "h"},
          "transform": [{"fold": ["o", "d", "p"], "as": ["k", "n"]}],
          "layer": [
            {
              "transform": [{"filter": "datum.k != 'd'"}],
              "mark": {"type": "area", "interpolate": "step-after", "clip": true},
              "encoding": {
                "x": {"field": "x", "type": "quantitative", "scale": {"type": "log", "domain": [1, 7700], "nice": false},
                      "axis": {"title": "Num. conc. [cm⁻³]", "values": [1,2,3,4,5,6,7,8,9,10,20,30,40,50,60,70,80,90,100,200,300,400,500,600,700,800,900,1000,2000,3000,4000,5000,6000,7000],
                               "labelExpr": "abs(log(datum.value)/LN10 - round(log(datum.value)/LN10)) < 0.01 ? '10' + ['⁰','¹','²','³','⁴','⁵'][round(log(datum.value)/LN10)] : ''",
                               "gridOpacity": {"condition": {"test": "abs(log(datum.value)/LN10 - round(log(datum.value)/LN10)) < 0.01", "value": 1}, "value": 0},
                               "tickSize": -5,
                               "tickWidth": {"condition": {"test": "abs(log(datum.value)/LN10 - round(log(datum.value)/LN10)) < 0.01", "value": 1.3}, "value": 0.9},
                               "labelAngle": -45, "labelAlign": "right", "labelBaseline": "top", "labelPadding": 7, "titlePadding": 2}},
                "y": {"field": "n", "type": "quantitative", "stack": null, "scale": {"type": "log", "domain": [0.67, 22000], "nice": false, "clamp": true},
                      "axis": {"title": "Frequency", "values": [1,2,3,4,5,6,7,8,9,10,20,30,40,50,60,70,80,90,100,200,300,400,500,600,700,800,900,1000,2000,3000,4000,5000,6000,7000,8000,9000,10000,20000],
                               "labelExpr": "abs(log(datum.value)/LN10 - round(log(datum.value)/LN10)) < 0.01 ? '10' + ['⁰','¹','²','³','⁴','⁵'][round(log(datum.value)/LN10)] : ''",
                               "gridOpacity": {"condition": {"test": "abs(log(datum.value)/LN10 - round(log(datum.value)/LN10)) < 0.01", "value": 1}, "value": 0},
                               "tickSize": {"condition": {"test": "abs(log(datum.value)/LN10 - round(log(datum.value)/LN10)) < 0.01", "value": -6}, "value": -3.5},
                               "tickWidth": {"condition": {"test": "abs(log(datum.value)/LN10 - round(log(datum.value)/LN10)) < 0.01", "value": 1.3}, "value": 0.9},
                               "labelPadding": 8, "titlePadding": 4}},
                "y2": {"datum": 0.67},
                "fill": {"field": "k", "type": "nominal", "scale": {"domain": ["o", "d", "p"], "range": ["rgba(255,0,0,0.3)", "rgba(255,255,255,0)", "rgba(0,0,255,0.34)"]},
                         "legend": {"title": null, "orient": "bottom-left", "offset": 7, "padding": 5, "fillColor": "rgba(255,255,255,0.8)", "strokeColor": "#cccccc", "cornerRadius": 3, "labelFontSize": 13, "labelColor": "#262626", "symbolType": "M-1.93,-0.71H1.93V0.71H-1.93Z", "symbolSize": 196, "symbolOffset": 6, "labelOffset": 17, "rowPadding": 3, "symbolStrokeWidth": 1.5,
                                    "labelExpr": "datum.label == 'o' ? 'original' : datum.label == 'd' ? 'derivative filter' : 'PDA filtered'"}}
              }
            },
            {
              "transform": [{"filter": "datum.k == 'd'"}],
              "mark": {"type": "line", "interpolate": "step-after", "clip": true, "strokeWidth": 1.5},
              "encoding": {
                "x": {"field": "x", "type": "quantitative"},
                "y": {"field": "n", "type": "quantitative"},
                "stroke": {"field": "k", "type": "nominal", "scale": {"domain": ["o", "d", "p"], "range": ["rgba(0,0,0,0)", "#2b2b2b", "rgba(0,0,0,0)"]},
                           "legend": {"title": null, "orient": "bottom-left", "offset": 7, "padding": 5, "fillColor": "rgba(255,255,255,0.8)", "strokeColor": "#cccccc", "cornerRadius": 3, "labelFontSize": 13, "labelColor": "#262626", "symbolType": "M-1.93,-0.71H1.93V0.71H-1.93Z", "symbolSize": 196, "symbolOffset": 6, "labelOffset": 17, "rowPadding": 3, "symbolStrokeWidth": 1.5,
                                      "labelExpr": "datum.label == 'o' ? 'original' : datum.label == 'd' ? 'derivative filter' : 'PDA filtered'"}}
              }
            }
          ]
        }
      ]
    }
  ]
}
